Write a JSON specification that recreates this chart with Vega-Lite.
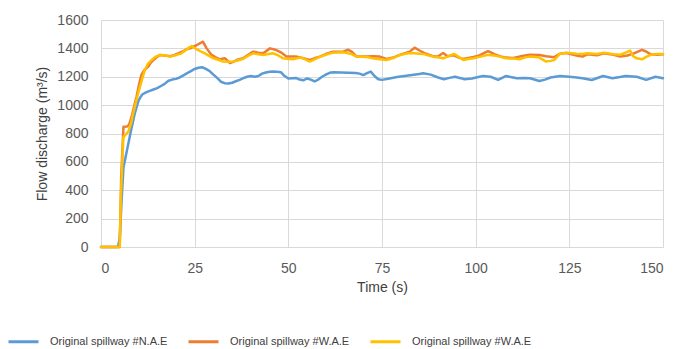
{
"$schema": "https://vega.github.io/schema/vega-lite/v6.json",
"width": 562, "height": 227,
"autosize": {"type": "none"},
"padding": {"left": 101, "top": 20, "right": 30, "bottom": 102},
"background": "white",
"config": {"view": {"stroke": null}, "font": "Liberation Sans"},
"data": {"values": [
{"t":0,"q":0,"s":"NAE"},{"t":4.5,"q":0,"s":"NAE"},{"t":5,"q":60,"s":"NAE"},{"t":5.5,"q":330,"s":"NAE"},{"t":6,"q":560,"s":"NAE"},{"t":7,"q":690,"s":"NAE"},{"t":8,"q":820,"s":"NAE"},{"t":9,"q":940,"s":"NAE"},{"t":10,"q":1030,"s":"NAE"},{"t":10.5,"q":1055,"s":"NAE"},{"t":11,"q":1075,"s":"NAE"},{"t":12,"q":1090,"s":"NAE"},{"t":13,"q":1100,"s":"NAE"},{"t":14,"q":1110,"s":"NAE"},{"t":15,"q":1120,"s":"NAE"},{"t":16,"q":1135,"s":"NAE"},{"t":17,"q":1150,"s":"NAE"},{"t":18,"q":1172,"s":"NAE"},{"t":19,"q":1180,"s":"NAE"},{"t":20,"q":1185,"s":"NAE"},{"t":21,"q":1195,"s":"NAE"},{"t":22,"q":1210,"s":"NAE"},{"t":23,"q":1225,"s":"NAE"},{"t":24,"q":1240,"s":"NAE"},{"t":25,"q":1255,"s":"NAE"},{"t":26,"q":1263,"s":"NAE"},{"t":27,"q":1267,"s":"NAE"},{"t":28,"q":1255,"s":"NAE"},{"t":29,"q":1240,"s":"NAE"},{"t":30,"q":1215,"s":"NAE"},{"t":31,"q":1192,"s":"NAE"},{"t":32,"q":1165,"s":"NAE"},{"t":33,"q":1155,"s":"NAE"},{"t":34,"q":1152,"s":"NAE"},{"t":35,"q":1158,"s":"NAE"},{"t":36,"q":1168,"s":"NAE"},{"t":37,"q":1178,"s":"NAE"},{"t":38,"q":1190,"s":"NAE"},{"t":39,"q":1200,"s":"NAE"},{"t":40,"q":1205,"s":"NAE"},{"t":41,"q":1200,"s":"NAE"},{"t":42,"q":1205,"s":"NAE"},{"t":43,"q":1222,"s":"NAE"},{"t":44,"q":1230,"s":"NAE"},{"t":45,"q":1235,"s":"NAE"},{"t":46,"q":1237,"s":"NAE"},{"t":47,"q":1236,"s":"NAE"},{"t":48,"q":1232,"s":"NAE"},{"t":49,"q":1205,"s":"NAE"},{"t":50,"q":1188,"s":"NAE"},{"t":51,"q":1190,"s":"NAE"},{"t":52,"q":1192,"s":"NAE"},{"t":53,"q":1180,"s":"NAE"},{"t":54,"q":1175,"s":"NAE"},{"t":55,"q":1188,"s":"NAE"},{"t":56,"q":1180,"s":"NAE"},{"t":57,"q":1168,"s":"NAE"},{"t":58,"q":1180,"s":"NAE"},{"t":59,"q":1200,"s":"NAE"},{"t":60,"q":1215,"s":"NAE"},{"t":61,"q":1228,"s":"NAE"},{"t":62,"q":1232,"s":"NAE"},{"t":64,"q":1230,"s":"NAE"},{"t":66,"q":1228,"s":"NAE"},{"t":68,"q":1226,"s":"NAE"},{"t":69,"q":1222,"s":"NAE"},{"t":70,"q":1212,"s":"NAE"},{"t":71,"q":1225,"s":"NAE"},{"t":72,"q":1236,"s":"NAE"},{"t":73,"q":1205,"s":"NAE"},{"t":74,"q":1182,"s":"NAE"},{"t":75,"q":1178,"s":"NAE"},{"t":77,"q":1188,"s":"NAE"},{"t":79,"q":1198,"s":"NAE"},{"t":81,"q":1205,"s":"NAE"},{"t":83,"q":1212,"s":"NAE"},{"t":85,"q":1220,"s":"NAE"},{"t":86,"q":1224,"s":"NAE"},{"t":88,"q":1215,"s":"NAE"},{"t":90,"q":1195,"s":"NAE"},{"t":91.5,"q":1182,"s":"NAE"},{"t":93,"q":1192,"s":"NAE"},{"t":94.5,"q":1200,"s":"NAE"},{"t":96,"q":1190,"s":"NAE"},{"t":97,"q":1182,"s":"NAE"},{"t":99,"q":1188,"s":"NAE"},{"t":101,"q":1200,"s":"NAE"},{"t":102,"q":1205,"s":"NAE"},{"t":104,"q":1200,"s":"NAE"},{"t":106,"q":1178,"s":"NAE"},{"t":108,"q":1205,"s":"NAE"},{"t":110,"q":1195,"s":"NAE"},{"t":111,"q":1189,"s":"NAE"},{"t":113,"q":1192,"s":"NAE"},{"t":114.5,"q":1189,"s":"NAE"},{"t":117,"q":1170,"s":"NAE"},{"t":118.5,"q":1180,"s":"NAE"},{"t":120,"q":1195,"s":"NAE"},{"t":122.5,"q":1205,"s":"NAE"},{"t":125,"q":1200,"s":"NAE"},{"t":127,"q":1195,"s":"NAE"},{"t":128.5,"q":1189,"s":"NAE"},{"t":131,"q":1177,"s":"NAE"},{"t":134,"q":1205,"s":"NAE"},{"t":136.5,"q":1190,"s":"NAE"},{"t":138.5,"q":1198,"s":"NAE"},{"t":140,"q":1205,"s":"NAE"},{"t":143,"q":1200,"s":"NAE"},{"t":145.5,"q":1178,"s":"NAE"},{"t":148,"q":1200,"s":"NAE"},{"t":150,"q":1190,"s":"NAE"},
{"t":0,"q":0,"s":"WAE1"},{"t":5,"q":0,"s":"WAE1"},{"t":5.4,"q":500,"s":"WAE1"},{"t":6,"q":848,"s":"WAE1"},{"t":7,"q":850,"s":"WAE1"},{"t":7.5,"q":862,"s":"WAE1"},{"t":8.2,"q":920,"s":"WAE1"},{"t":9,"q":1010,"s":"WAE1"},{"t":9.5,"q":1060,"s":"WAE1"},{"t":10.2,"q":1150,"s":"WAE1"},{"t":10.8,"q":1213,"s":"WAE1"},{"t":11.5,"q":1245,"s":"WAE1"},{"t":12.6,"q":1271,"s":"WAE1"},{"t":13.3,"q":1300,"s":"WAE1"},{"t":14,"q":1318,"s":"WAE1"},{"t":15,"q":1340,"s":"WAE1"},{"t":15.7,"q":1354,"s":"WAE1"},{"t":17,"q":1350,"s":"WAE1"},{"t":18.4,"q":1345,"s":"WAE1"},{"t":19.5,"q":1352,"s":"WAE1"},{"t":20.6,"q":1365,"s":"WAE1"},{"t":21.8,"q":1378,"s":"WAE1"},{"t":22.8,"q":1394,"s":"WAE1"},{"t":23.8,"q":1400,"s":"WAE1"},{"t":24.6,"q":1412,"s":"WAE1"},{"t":25.5,"q":1422,"s":"WAE1"},{"t":26.4,"q":1436,"s":"WAE1"},{"t":27.2,"q":1447,"s":"WAE1"},{"t":28.2,"q":1400,"s":"WAE1"},{"t":29.5,"q":1354,"s":"WAE1"},{"t":30.5,"q":1338,"s":"WAE1"},{"t":31.7,"q":1323,"s":"WAE1"},{"t":33.1,"q":1330,"s":"WAE1"},{"t":34.4,"q":1297,"s":"WAE1"},{"t":35.3,"q":1305,"s":"WAE1"},{"t":36.2,"q":1318,"s":"WAE1"},{"t":37.9,"q":1330,"s":"WAE1"},{"t":39.3,"q":1355,"s":"WAE1"},{"t":40.6,"q":1377,"s":"WAE1"},{"t":42,"q":1370,"s":"WAE1"},{"t":43.3,"q":1365,"s":"WAE1"},{"t":45.1,"q":1400,"s":"WAE1"},{"t":46.8,"q":1388,"s":"WAE1"},{"t":48,"q":1372,"s":"WAE1"},{"t":49.5,"q":1342,"s":"WAE1"},{"t":52.2,"q":1342,"s":"WAE1"},{"t":54,"q":1330,"s":"WAE1"},{"t":55.7,"q":1318,"s":"WAE1"},{"t":57,"q":1330,"s":"WAE1"},{"t":58.4,"q":1342,"s":"WAE1"},{"t":60,"q":1360,"s":"WAE1"},{"t":61.9,"q":1377,"s":"WAE1"},{"t":64.6,"q":1377,"s":"WAE1"},{"t":66,"q":1390,"s":"WAE1"},{"t":67,"q":1375,"s":"WAE1"},{"t":68.2,"q":1342,"s":"WAE1"},{"t":70.8,"q":1342,"s":"WAE1"},{"t":72.5,"q":1345,"s":"WAE1"},{"t":74.4,"q":1342,"s":"WAE1"},{"t":76.2,"q":1325,"s":"WAE1"},{"t":78,"q":1335,"s":"WAE1"},{"t":79.7,"q":1354,"s":"WAE1"},{"t":82.4,"q":1377,"s":"WAE1"},{"t":83.7,"q":1405,"s":"WAE1"},{"t":85,"q":1385,"s":"WAE1"},{"t":86.2,"q":1368,"s":"WAE1"},{"t":87.5,"q":1355,"s":"WAE1"},{"t":88.9,"q":1342,"s":"WAE1"},{"t":90,"q":1345,"s":"WAE1"},{"t":91.3,"q":1368,"s":"WAE1"},{"t":92.5,"q":1345,"s":"WAE1"},{"t":94,"q":1352,"s":"WAE1"},{"t":95.5,"q":1335,"s":"WAE1"},{"t":96.7,"q":1325,"s":"WAE1"},{"t":99.4,"q":1340,"s":"WAE1"},{"t":101,"q":1350,"s":"WAE1"},{"t":103.3,"q":1380,"s":"WAE1"},{"t":105,"q":1360,"s":"WAE1"},{"t":106.4,"q":1345,"s":"WAE1"},{"t":108,"q":1335,"s":"WAE1"},{"t":110,"q":1332,"s":"WAE1"},{"t":111.7,"q":1342,"s":"WAE1"},{"t":114.4,"q":1355,"s":"WAE1"},{"t":117,"q":1354,"s":"WAE1"},{"t":118.8,"q":1345,"s":"WAE1"},{"t":121,"q":1338,"s":"WAE1"},{"t":122.4,"q":1362,"s":"WAE1"},{"t":124.2,"q":1368,"s":"WAE1"},{"t":126.9,"q":1350,"s":"WAE1"},{"t":128.5,"q":1342,"s":"WAE1"},{"t":129.8,"q":1358,"s":"WAE1"},{"t":132.4,"q":1352,"s":"WAE1"},{"t":134.2,"q":1365,"s":"WAE1"},{"t":136.8,"q":1355,"s":"WAE1"},{"t":138.6,"q":1342,"s":"WAE1"},{"t":140.5,"q":1350,"s":"WAE1"},{"t":142.2,"q":1365,"s":"WAE1"},{"t":144.4,"q":1390,"s":"WAE1"},{"t":145.5,"q":1378,"s":"WAE1"},{"t":146.7,"q":1358,"s":"WAE1"},{"t":148.4,"q":1355,"s":"WAE1"},{"t":150,"q":1358,"s":"WAE1"},
{"t":0,"q":0,"s":"WAE2"},{"t":5,"q":0,"s":"WAE2"},{"t":5.3,"q":350,"s":"WAE2"},{"t":5.96,"q":775,"s":"WAE2"},{"t":7.3,"q":813,"s":"WAE2"},{"t":8,"q":870,"s":"WAE2"},{"t":8.6,"q":943,"s":"WAE2"},{"t":9.5,"q":1040,"s":"WAE2"},{"t":10.4,"q":1130,"s":"WAE2"},{"t":11.7,"q":1248,"s":"WAE2"},{"t":12.5,"q":1290,"s":"WAE2"},{"t":13.5,"q":1318,"s":"WAE2"},{"t":14.5,"q":1340,"s":"WAE2"},{"t":15.7,"q":1354,"s":"WAE2"},{"t":17,"q":1352,"s":"WAE2"},{"t":18.4,"q":1342,"s":"WAE2"},{"t":20,"q":1352,"s":"WAE2"},{"t":21.5,"q":1365,"s":"WAE2"},{"t":22.5,"q":1385,"s":"WAE2"},{"t":23.3,"q":1402,"s":"WAE2"},{"t":24.2,"q":1417,"s":"WAE2"},{"t":25.5,"q":1394,"s":"WAE2"},{"t":26.5,"q":1380,"s":"WAE2"},{"t":27.7,"q":1365,"s":"WAE2"},{"t":29,"q":1345,"s":"WAE2"},{"t":30,"q":1330,"s":"WAE2"},{"t":31.5,"q":1318,"s":"WAE2"},{"t":32.6,"q":1307,"s":"WAE2"},{"t":34,"q":1305,"s":"WAE2"},{"t":35.3,"q":1307,"s":"WAE2"},{"t":36.5,"q":1315,"s":"WAE2"},{"t":37.9,"q":1325,"s":"WAE2"},{"t":39.3,"q":1348,"s":"WAE2"},{"t":40.6,"q":1365,"s":"WAE2"},{"t":42,"q":1358,"s":"WAE2"},{"t":43.3,"q":1354,"s":"WAE2"},{"t":44.7,"q":1360,"s":"WAE2"},{"t":46,"q":1365,"s":"WAE2"},{"t":47.3,"q":1350,"s":"WAE2"},{"t":48.6,"q":1330,"s":"WAE2"},{"t":50,"q":1325,"s":"WAE2"},{"t":51.3,"q":1323,"s":"WAE2"},{"t":53,"q":1335,"s":"WAE2"},{"t":54,"q":1330,"s":"WAE2"},{"t":55.7,"q":1307,"s":"WAE2"},{"t":57,"q":1322,"s":"WAE2"},{"t":58.4,"q":1340,"s":"WAE2"},{"t":60,"q":1355,"s":"WAE2"},{"t":61.9,"q":1370,"s":"WAE2"},{"t":64.6,"q":1372,"s":"WAE2"},{"t":66,"q":1365,"s":"WAE2"},{"t":67,"q":1358,"s":"WAE2"},{"t":68.2,"q":1342,"s":"WAE2"},{"t":70.8,"q":1340,"s":"WAE2"},{"t":72.5,"q":1330,"s":"WAE2"},{"t":74.4,"q":1323,"s":"WAE2"},{"t":76.2,"q":1318,"s":"WAE2"},{"t":78,"q":1332,"s":"WAE2"},{"t":79.7,"q":1352,"s":"WAE2"},{"t":81,"q":1360,"s":"WAE2"},{"t":82.4,"q":1368,"s":"WAE2"},{"t":83.7,"q":1365,"s":"WAE2"},{"t":85,"q":1362,"s":"WAE2"},{"t":86.2,"q":1360,"s":"WAE2"},{"t":87.5,"q":1350,"s":"WAE2"},{"t":88.9,"q":1340,"s":"WAE2"},{"t":90.3,"q":1335,"s":"WAE2"},{"t":91.3,"q":1330,"s":"WAE2"},{"t":92.8,"q":1345,"s":"WAE2"},{"t":94.2,"q":1362,"s":"WAE2"},{"t":95.5,"q":1340,"s":"WAE2"},{"t":96.7,"q":1318,"s":"WAE2"},{"t":98,"q":1325,"s":"WAE2"},{"t":99.4,"q":1330,"s":"WAE2"},{"t":101,"q":1340,"s":"WAE2"},{"t":103.3,"q":1354,"s":"WAE2"},{"t":105,"q":1350,"s":"WAE2"},{"t":106.4,"q":1342,"s":"WAE2"},{"t":108,"q":1330,"s":"WAE2"},{"t":110,"q":1328,"s":"WAE2"},{"t":111.7,"q":1323,"s":"WAE2"},{"t":113,"q":1335,"s":"WAE2"},{"t":114.4,"q":1342,"s":"WAE2"},{"t":116,"q":1340,"s":"WAE2"},{"t":117,"q":1335,"s":"WAE2"},{"t":118.8,"q":1307,"s":"WAE2"},{"t":120,"q":1312,"s":"WAE2"},{"t":121,"q":1318,"s":"WAE2"},{"t":122.4,"q":1360,"s":"WAE2"},{"t":124.2,"q":1370,"s":"WAE2"},{"t":126.9,"q":1362,"s":"WAE2"},{"t":128.5,"q":1360,"s":"WAE2"},{"t":129.8,"q":1365,"s":"WAE2"},{"t":132.4,"q":1360,"s":"WAE2"},{"t":134.2,"q":1370,"s":"WAE2"},{"t":136.8,"q":1358,"s":"WAE2"},{"t":138.6,"q":1355,"s":"WAE2"},{"t":140.2,"q":1372,"s":"WAE2"},{"t":141.2,"q":1385,"s":"WAE2"},{"t":142,"q":1345,"s":"WAE2"},{"t":143,"q":1330,"s":"WAE2"},{"t":144.4,"q":1323,"s":"WAE2"},{"t":145.5,"q":1340,"s":"WAE2"},{"t":146.7,"q":1355,"s":"WAE2"},{"t":148.4,"q":1360,"s":"WAE2"},{"t":150,"q":1360,"s":"WAE2"}
]},
"mark": {"type": "line", "strokeWidth": 2.5, "strokeJoin": "round", "strokeCap": "round"},
"encoding": {
"x": {"field": "t", "type": "quantitative", "scale": {"domain": [0, 150], "nice": false},
 "axis": {"values": [0, 25, 50, 75, 100, 125, 150], "format": "d", "title": "Time (s)", "grid": true, "gridColor": "#d9d9d9", "domain": true, "domainColor": "#d9d9d9", "ticks": false, "labelFontSize": 14, "labelColor": "#595959", "labelPadding": 14, "titleFontSize": 14, "titleColor": "#404040", "titleFontWeight": "normal", "titlePadding": 5}},
"y": {"field": "q", "type": "quantitative", "scale": {"domain": [0, 1600], "nice": false},
 "axis": {"values": [0, 200, 400, 600, 800, 1000, 1200, 1400, 1600], "format": "d", "title": "Flow discharge (m³/s)", "grid": true, "gridColor": "#d9d9d9", "domain": false, "ticks": false, "labelFontSize": 14, "labelColor": "#595959", "labelPadding": 13, "titleFontSize": 14, "titleColor": "#404040", "titleFontWeight": "normal", "titlePadding": 7}},
"color": {"field": "s", "type": "nominal",
 "scale": {"domain": ["NAE", "WAE1", "WAE2"], "range": ["#5b9bd5", "#ed7d31", "#ffc000"]},
 "legend": {"orient": "none", "legendX": -94, "legendY": 305, "direction": "horizontal", "columns": 3, "columnPadding": 14, "symbolType": "stroke", "symbolSize": 900, "symbolStrokeWidth": 3, "labelFontSize": 11, "labelColor": "#404040", "labelOffset": 10, "title": null, "padding": 0,
  "labelExpr": "datum.label == 'NAE' ? 'Original spillway #N.A.E' : 'Original spillway #W.A.E'"}}
}
}
